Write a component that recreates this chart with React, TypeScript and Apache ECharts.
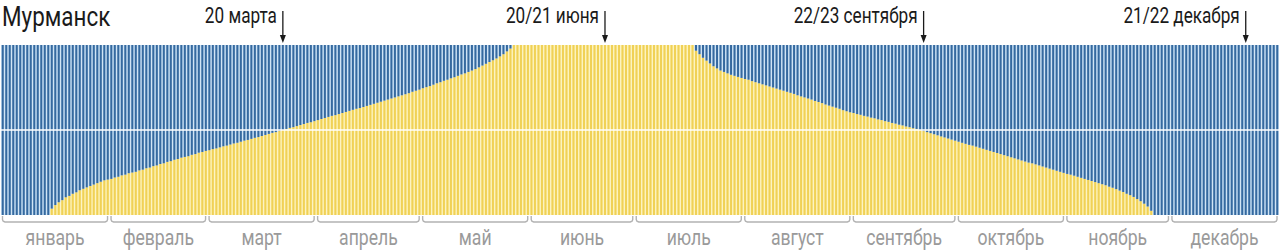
import React, { useEffect, useRef } from "react";
import * as echarts from "echarts";

// Daylight hours in Murmansk for each day of the year
const janDay = [0,0,0,0,0,0,0,0,0,0,0,0,0,0,0.9,1.4,1.8,2.1,2.5,2.7,3.0,3.2,3.5,3.7,3.9,4.1,4.3,4.5,4.7,4.9,5.0];
const febDay = [5.1,5.3,5.4,5.6,5.7,5.9,6.0,6.1,6.3,6.4,6.6,6.7,6.9,7.0,7.2,7.3,7.5,7.6,7.8,7.9,8.1,8.2,8.3,8.5,8.6,8.8,8.9,9.05];
const marDay = [9.15,9.3,9.4,9.55,9.7,9.8,9.95,10.1,10.2,10.35,10.5,10.6,10.75,10.9,11.0,11.15,11.3,11.45,11.6,11.7,11.85,12.0,12.15,12.3,12.4,12.55,12.7,12.85,13.0,13.1,13.25];
const aprDay = [13.4,13.55,13.7,13.85,14.0,14.1,14.25,14.4,14.55,14.7,14.85,15.0,15.1,15.25,15.4,15.55,15.7,15.85,16.0,16.15,16.3,16.45,16.6,16.75,16.9,17.05,17.2,17.4,17.55,17.7];
const mayDay = [17.9,18.05,18.2,18.4,18.6,18.75,18.95,19.1,19.3,19.45,19.65,19.85,20.0,20.2,20.4,20.6,20.85,21.1,21.35,21.6,21.85,22.1,22.4,22.7,23.1,23.5,24,24,24,24,24];
const junDay = [24,24,24,24,24,24,24,24,24,24,24,24,24,24,24,24,24,24,24,24,24,24,24,24,24,24,24,24,24,24];
const julDay = [24,24,24,24,24,24,24,24,24,24,24,24,24,24,24,24,24,23.2,22.7,22.2,21.8,21.4,21.0,20.7,20.4,20.2,20.0,19.8,19.65,19.5,19.35];
const augDay = [19.2,19.1,18.9,18.75,18.6,18.45,18.3,18.15,18.0,17.85,17.7,17.55,17.4,17.25,17.1,16.9,16.75,16.6,16.45,16.3,16.1,15.95,15.8,15.6,15.45,15.3,15.15,15.0,14.8,14.65,14.5];
const sepDay = [14.4,14.25,14.15,14.0,13.9,13.75,13.65,13.5,13.4,13.25,13.15,13.0,12.9,12.75,12.65,12.5,12.4,12.25,12.15,12.0,11.85,11.7,11.55,11.4,11.25,11.1,10.95,10.8,10.65,10.5];
const octDay = [10.35,10.2,10.05,9.9,9.8,9.65,9.5,9.35,9.2,9.05,8.9,8.75,8.6,8.45,8.3,8.15,8.0,7.85,7.7,7.55,7.4,7.3,7.15,7.0,6.85,6.7,6.55,6.4,6.25,6.1,5.95];
const novDay = [5.8,5.7,5.55,5.4,5.25,5.1,4.95,4.8,4.65,4.5,4.35,4.2,4.0,3.85,3.65,3.45,3.25,3.0,2.8,2.55,2.25,1.95,1.6,1.2,0.6,0,0,0,0,0];
const decDay = [0,0,0,0,0,0,0,0,0,0,0,0,0,0,0,0,0,0,0,0,0,0,0,0,0,0,0,0,0,0,0];

const monthDays = [janDay, febDay, marDay, aprDay, mayDay, junDay, julDay, augDay, sepDay, octDay, novDay, decDay];
const monthNames = ["январь","февраль","март","апрель","май","июнь","июль","август","сентябрь","октябрь","ноябрь","декабрь"];

const title = "Мурманск";
const markerLabels = ["20 марта", "20/21 июня", "22/23 сентября", "21/22 декабря"];
const markerDays = [80, 172, 263, 355];

const daylight: number[] = monthDays.flat();
const night: number[] = daylight.map((d) => 24 - d);
const dayIndex: string[] = daylight.map((_, i) => String(i + 1));

const monthStart: number[] = [];
{
  let s = 0;
  monthDays.forEach((m) => { monthStart.push(s); s += m.length; });
}

const FONT = "Roboto, 'Noto Sans', sans-serif";

export default function App() {
  const ref = useRef<HTMLDivElement>(null);
  useEffect(() => {
    document.body.style.margin = "0";
    const chart = echarts.init(ref.current!, null, { renderer: "svg" });
    const DARK_BLUE = "#35699f";
    const LIGHT_BLUE = "#c2dcf2";
    const DARK_YEL = "#f0d156";
    const LIGHT_YEL = "#fcf0b0";
    chart.setOption({
      animation: false,
      grid: { left: 1, right: 1, top: 45, height: 170 },
      xAxis: [
        { type: "category", data: dayIndex, show: false },
        { type: "category", data: dayIndex, show: false },
      ],
      yAxis: { type: "value", min: 0, max: 24, show: false },
      series: [
        { type: "bar", xAxisIndex: 1, stack: "bg", data: daylight, barCategoryGap: 0, itemStyle: { color: LIGHT_YEL }, silent: true },
        { type: "bar", xAxisIndex: 1, stack: "bg", data: night, barCategoryGap: 0, itemStyle: { color: LIGHT_BLUE }, silent: true },
        { type: "bar", xAxisIndex: 0, stack: "fg", data: daylight, barWidth: 2, itemStyle: { color: DARK_YEL }, silent: true },
        {
          type: "bar", xAxisIndex: 0, stack: "fg", data: night, barWidth: 2, itemStyle: { color: DARK_BLUE }, silent: true,
          markLine: {
            silent: true,
            symbol: ["none", "none"],
            label: { show: false },
            lineStyle: { color: "#ffffff", width: 1.5, type: "solid" },
            data: [{ yAxis: 12 }],
          },
        },
      ],
    });

    const px = (i: number) => chart.convertToPixel({ xAxisIndex: 0 }, i) as number;
    const band = px(1) - px(0);
    const graphics: any[] = [
      {
        type: "text", x: 2, y: 16.5, scaleX: 0.8,
        style: { text: title, fontSize: 28, lineHeight: 28, fontFamily: FONT, fill: "#1a1a1a", align: "left", verticalAlign: "middle" },
      },
    ];
    markerDays.forEach((d, k) => {
      const x = px(d);
      graphics.push({
        type: "text", x: x - 6, y: 15.5, scaleX: 0.78,
        style: { text: markerLabels[k], fontSize: 22, lineHeight: 22, fontFamily: FONT, fill: "#1a1a1a", align: "right", verticalAlign: "middle" },
      });
      graphics.push({ type: "line", shape: { x1: x, y1: 11, x2: x, y2: 38 }, style: { stroke: "#1a1a1a", lineWidth: 1.3 } });
      graphics.push({ type: "polygon", shape: { points: [[x - 3, 35], [x + 3, 35], [x, 43]] }, style: { fill: "#1a1a1a" } });
    });
    monthStart.forEach((s, m) => {
      const len = monthDays[m].length;
      const x0 = px(s) - band / 2 + 1.5;
      const x1 = px(s + len - 1) + band / 2 - 2;
      graphics.push({
        type: "polyline",
        shape: {
          points: [[x0, 216], [x0, 219.5], [x0 + 0.7, 221.2], [x0 + 2.5, 222], [x1 - 2.5, 222], [x1 - 0.7, 221.2], [x1, 219.5], [x1, 216]],
        },
        style: { stroke: "#b3b3b3", lineWidth: 1.4, fill: null },
      });
      graphics.push({
        type: "text", x: (x0 + x1) / 2, y: 238, scaleX: 0.8,
        style: { text: monthNames[m], fontSize: 22, lineHeight: 22, fontFamily: FONT, fill: "#9a9a9a", align: "center", verticalAlign: "middle" },
      });
    });
    chart.setOption({ graphic: graphics });
    return () => chart.dispose();
  }, []);
  return <div ref={ref} style={{ position: "absolute", left: 0, top: 0, width: 1280, height: 251 }} />;
}
